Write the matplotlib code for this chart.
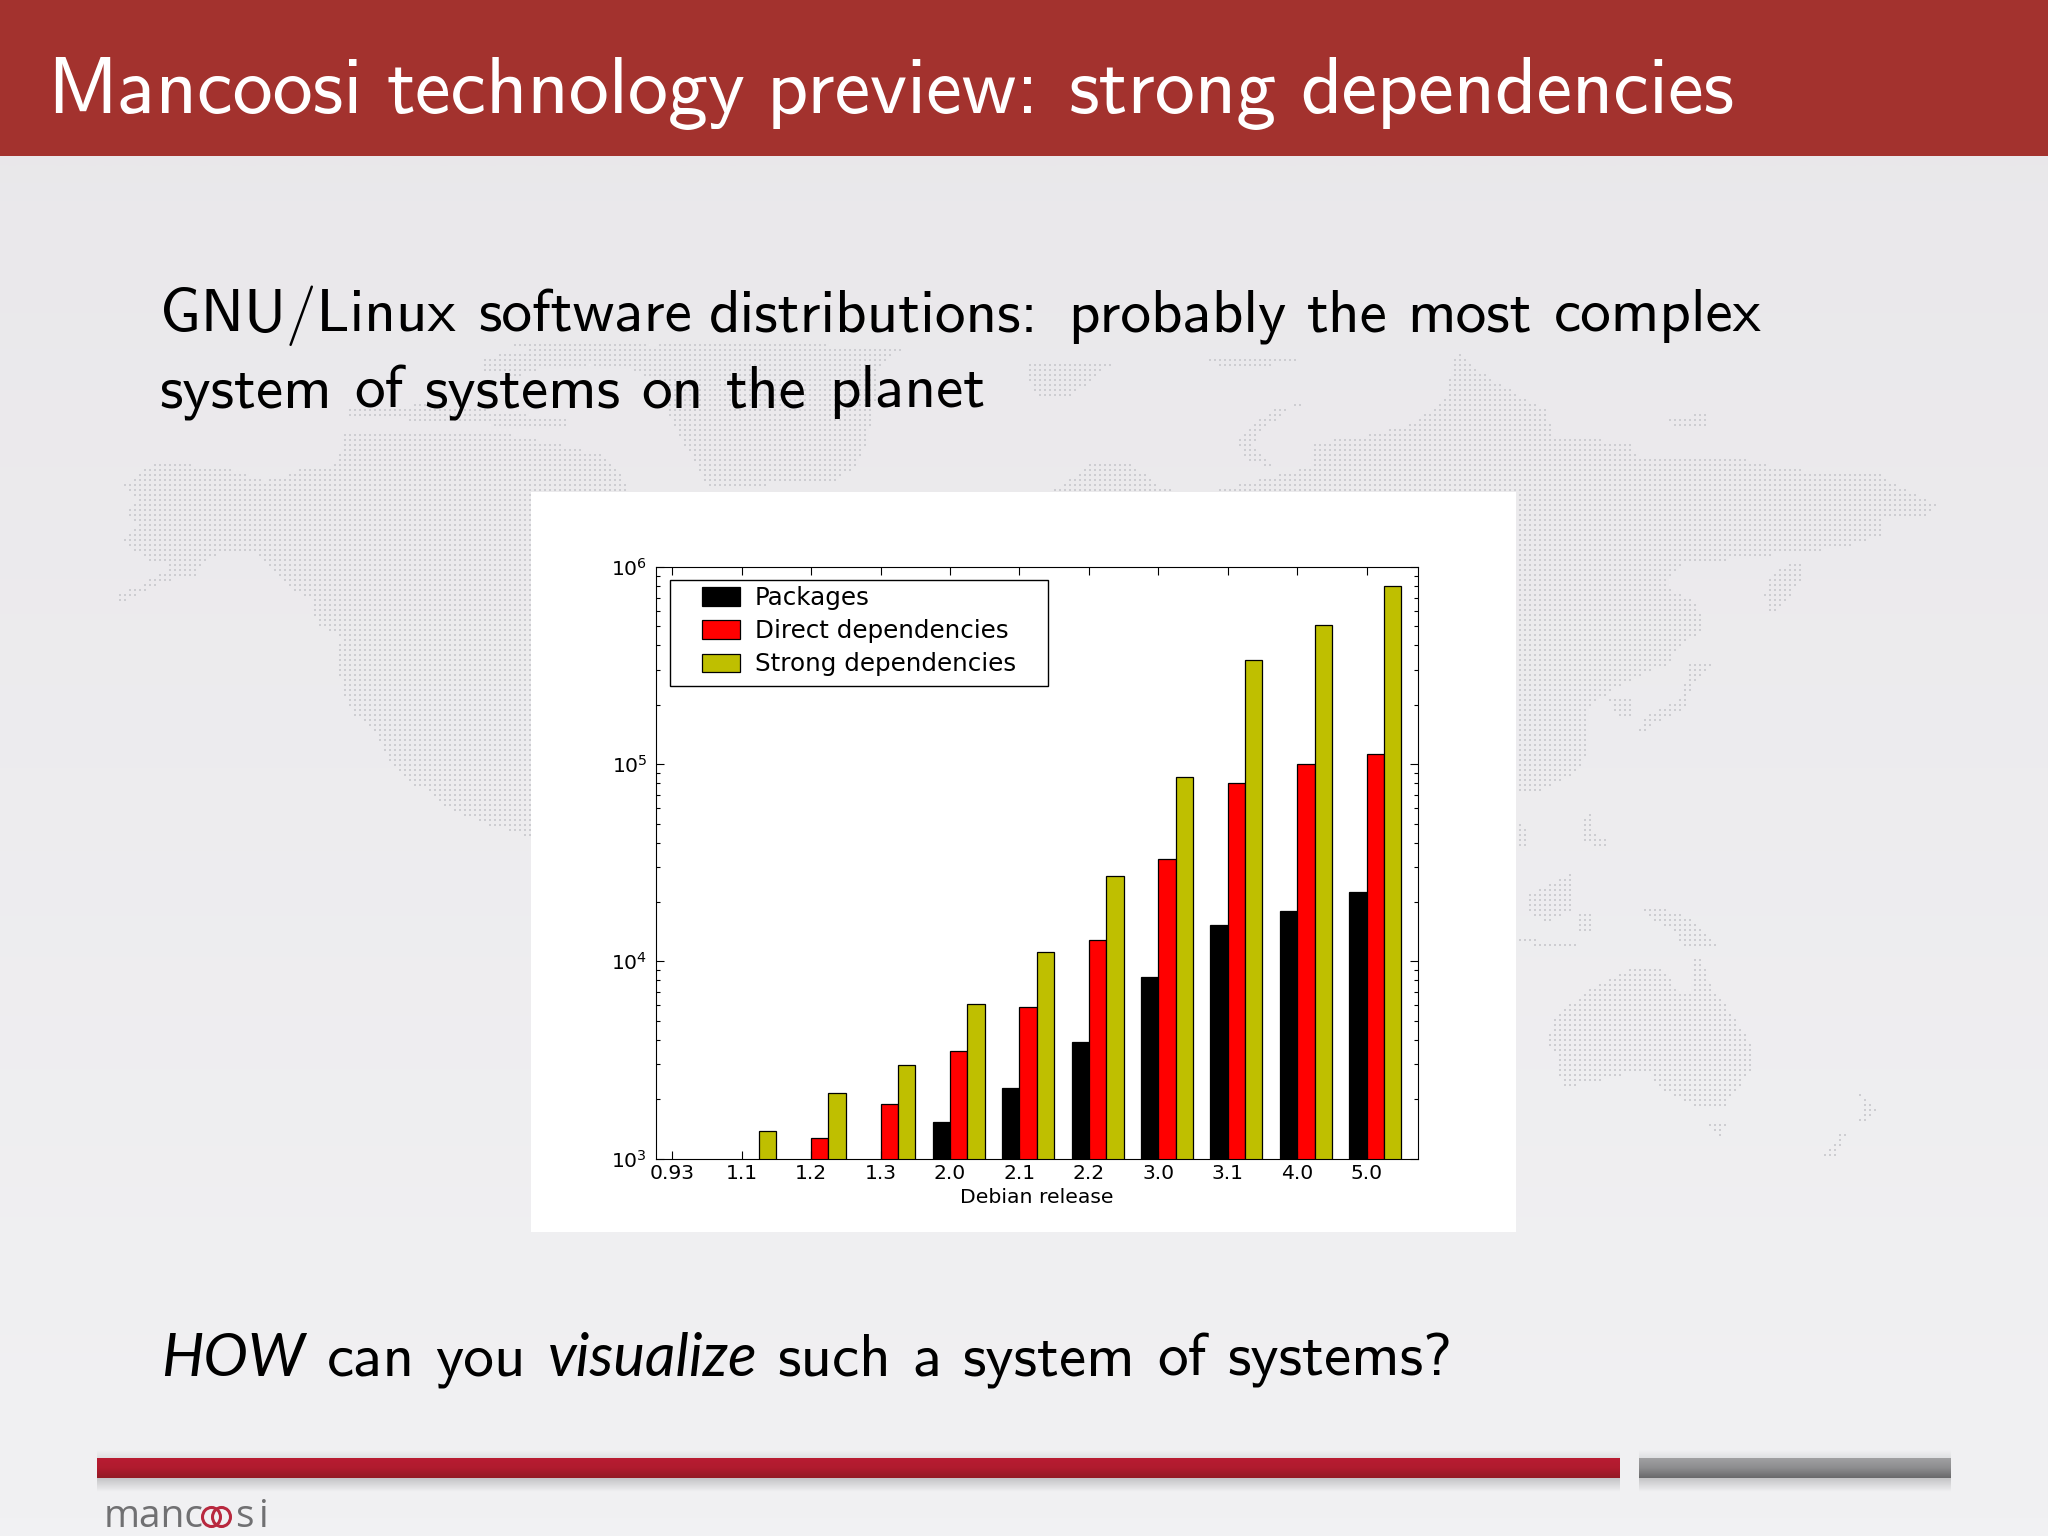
import numpy as np
import matplotlib
matplotlib.use("Agg")
import matplotlib.pyplot as plt
from matplotlib.path import Path
from matplotlib.patches import Ellipse, Rectangle
from matplotlib.colors import LinearSegmentedColormap

# chart values (nan = bar below the 10^3 axis floor)
releases = ["0.93", "1.1", "1.2", "1.3", "2.0", "2.1", "2.2", "3.0", "3.1", "4.0", "5.0"]
packages = [np.nan, np.nan, np.nan, np.nan, 1530, 2270, 3890, 8300, 15200, 18000, 22400]
direct_deps = [np.nan, np.nan, 1270, 1880, 3490, 5870, 12800, 33000, 80600, 100000, 113000]
strong_deps = [np.nan, 1375, 2140, 2990, 6110, 11200, 27000, 86100, 339000, 506000, 800000]

W, H = 2048, 1536

# slide text: (word, x of its left edge)
title_words = [("Mancoosi", 47), ("technology", 386), ("preview:", 767), ("strong", 1069), ("dependencies", 1300)]
line1_words = [("GNU/Linux", 160), ("software", 478), ("distributions:", 709), ("probably", 1068), ("the", 1307), ("most", 1407), ("complex", 1554)]
line2_words = [("system", 159), ("of", 354), ("systems", 424), ("on", 641), ("the", 726), ("planet", 829)]
bottom_words = [("HOW", 161, True), ("can", 327, False), ("you", 435, False), ("visualize", 548, True),
                ("such", 777, False), ("a", 912, False), ("system", 962, False), ("of", 1157, False), ("systems?", 1227, False)]

# rough outlines of the dotted world map behind the slide, given per zoomed crop
left_shapes = [[(124, 485), (155, 462), (225, 468), (265, 480), (290, 475), (340, 468), (400, 480), (531, 465),
                (531, 837), (483, 823), (441, 806), (431, 792), (414, 785), (390, 764), (376, 733), (352, 713),
                (341, 688), (338, 661), (341, 637), (317, 626), (310, 599), (293, 589), (269, 564), (252, 551),
                (224, 551), (203, 561), (197, 575), (165, 582), (138, 595), (110, 607), (119, 595), (141, 585),
                (165, 571), (172, 561), (148, 561), (131, 547), (124, 540), (138, 526), (124, 513), (138, 499)]]
top_shapes = [[(250, 65), (420, 65), (425, 90), (440, 65), (730, 80), (700, 130), (690, 300), (680, 400), (670, 440),
               (640, 490), (490, 500), (480, 440), (465, 380), (445, 290), (440, 200), (400, 150), (300, 120)],
              [(220, 120), (260, 90), (390, 95), (390, 130), (300, 140), (260, 170), (220, 150)],
              [(60, 270), (160, 250), (320, 300), (320, 330), (200, 310), (60, 290)],
              [(50, 330), (110, 340), (250, 340), (360, 400), (380, 440), (400, 520), (0, 520), (0, 450), (40, 440), (50, 380)],
              [(880, 130), (980, 130), (950, 190), (920, 240), (890, 230), (880, 180)],
              [(1090, 110), (1200, 105), (1200, 130), (1110, 145)],
              [(905, 520), (960, 420), (1000, 430), (1040, 500), (1060, 520)],
              [(1220, 370), (1300, 340), (1340, 310), (1380, 240), (1395, 90), (1420, 150), (1460, 210), (1505, 270),
               (1510, 345), (1568, 350), (1568, 520), (1090, 520), (1170, 470), (1220, 440)],
              [(1225, 245), (1195, 265), (1165, 320), (1150, 370), (1165, 420), (1175, 440), (1145, 430), (1130, 370),
               (1150, 310), (1180, 260)]]
right_shapes = [[(0, 120), (110, 130), (110, 180), (350, 190), (380, 215), (640, 210), (800, 235), (1080, 245), (1140, 270),
                 (1250, 300), (1200, 325), (1090, 320), (1090, 355), (990, 375), (880, 385), (720, 395), (500, 410),
                 (450, 450), (550, 480), (560, 530), (490, 560), (460, 590), (330, 630), (240, 660), (220, 700), (230, 750),
                 (190, 790), (100, 820), (20, 830), (0, 830)],
                [(740, 460), (770, 420), (850, 400), (855, 430), (800, 480), (760, 505)],
                [(520, 590), (590, 590), (540, 620), (510, 670), (370, 720), (390, 690), (500, 650)],
                [(285, 650), (350, 655), (350, 690), (315, 690)],
                [(210, 870), (240, 860), (240, 900), (290, 910), (270, 930), (210, 910)],
                [(50, 1010), (130, 990), (180, 970), (175, 1040), (110, 1060), (60, 1050)],
                [(370, 1030), (410, 1030), (510, 1050), (570, 1080), (620, 1110), (560, 1110), (480, 1100), (490, 1080), (420, 1060)],
                [(20, 1090), (190, 1102), (190, 1112), (20, 1100)],
                [(190, 1050), (245, 1040), (240, 1075), (200, 1080)],
                [(20, 880), (50, 890), (50, 920), (20, 930)],
                [(110, 1280), (125, 1235), (240, 1180), (300, 1160), (380, 1140), (450, 1150), (490, 1190), (530, 1190),
                 (540, 1120), (560, 1130), (590, 1180), (650, 1230), (700, 1280), (705, 1330), (660, 1370), (620, 1400),
                 (540, 1400), (430, 1360), (400, 1330), (260, 1350), (150, 1365), (135, 1300)],
                [(580, 1430), (630, 1430), (610, 1460)],
                [(990, 1360), (1070, 1400), (1040, 1430), (1000, 1430), (940, 1495), (905, 1490), (960, 1450), (1020, 1420), (1030, 1390)],
                [(460, 140), (570, 135), (570, 155), (470, 155)]]


def map_shapes():
    shapes = [np.array(s, float) for s in left_shapes]
    for s in top_shapes:
        s = np.array(s, float)
        shapes.append(np.column_stack([300 + s[:, 0] / 1.206, 320 + s[:, 1] / 3]))
    for s in right_shapes:
        s = np.array(s, float)
        shapes.append(np.column_stack([1510 + s[:, 0] / 2.914, 340 + s[:, 1] / 1.823]))
    return shapes


def vgradient(ax, x0, x1, y0, y1, colors):
    cmap = LinearSegmentedColormap.from_list("g", colors)
    grad = np.linspace(0, 1, 64).reshape(-1, 1)
    ax.imshow(grad, cmap=cmap, extent=(x0, x1, y1, y0), aspect="auto", zorder=2, interpolation="bilinear")


def put_words(ax, words, y, size, color="black"):
    for word, x in words:
        ax.text(x, y, word, family="cmss10", fontsize=size, color=color, va="baseline", ha="left", zorder=5)


fig = plt.figure(figsize=(W / 100, H / 100), dpi=100)

# slide background drawn in pixel coordinates
bg = fig.add_axes([0, 0, 1, 1])
bg.axis("off")
vgradient(bg, 0, W, 0, H, ["#e9e7ea", "#f1f1f3"])

gx, gy = np.meshgrid(np.arange(100, 1950, 5), np.arange(320, 1180, 5))
grid = np.column_stack([gx.ravel(), gy.ravel()])
hit = np.zeros(len(grid), bool)
for s in map_shapes():
    hit |= Path(s).contains_points(grid)
bg.scatter(grid[hit, 0], grid[hit, 1], s=4.6, marker="s", color="#cdcdd1", linewidths=0, zorder=3)

bg.fill_between([0, W], 0, 156, color="#a3322e", zorder=4, linewidth=0)
bg.fill_between([531, 1516], 492, 1232, color="white", zorder=4, linewidth=0)

put_words(bg, title_words, 113, 57.7, "white")
put_words(bg, line1_words, 331, 44)
put_words(bg, line2_words, 407, 44)
for word, x, slanted in bottom_words:
    if slanted:
        bg.text(x, 1376, word, family="Lato", style="italic", fontsize=43, va="baseline", zorder=5)
    else:
        bg.text(x, 1376, word, family="cmss10", fontsize=44, va="baseline", zorder=5)

# footer bars with their soft shadows
vgradient(bg, 97, 1620, 1450, 1458, ["#f0f0f2", "#e0e1e3"])
vgradient(bg, 1639, 1951, 1450, 1458, ["#f0f0f2", "#e0e1e3"])
vgradient(bg, 97, 1620, 1478, 1492, ["#c4c4c6", "#f1f1f3"])
vgradient(bg, 1639, 1951, 1478, 1492, ["#c4c4c6", "#f1f1f3"])
vgradient(bg, 97, 1620, 1458, 1478, ["#b81c32", "#b01b2e", "#931a24"])
vgradient(bg, 1639, 1951, 1458, 1478, ["#a0a0a2", "#8c8c8e", "#69696b"])

# logo: text with the two interlocked rings between
bg.text(104, 1527, "manc", family="Open Sans", fontsize=28, color="#707072", va="baseline", zorder=5)
bg.add_patch(Ellipse((211.5, 1517), 18, 19, fill=False, edgecolor="#b8283e", linewidth=2.2, zorder=5))
bg.add_patch(Ellipse((221.5, 1517), 18, 19, fill=False, edgecolor="#b8283e", linewidth=2.2, zorder=5))
bg.text(235, 1527, "s", family="Open Sans", fontsize=28, color="#707072", va="baseline", zorder=5)
bg.text(259, 1527, "i", family="Open Sans", fontsize=28, color="#707072", va="baseline", zorder=5)

bg.set_xlim(0, W)
bg.set_ylim(H, 0)

# the chart itself
ax_w, ax_h = 762.4, 591.5
ax = fig.add_axes([655.6 / W, 1 - 1158.5 / H, ax_w / W, ax_h / H])
x = np.arange(len(releases))
width = 0.25
ax.bar(x - width, packages, width, align="edge", color="k", edgecolor="k", linewidth=0.9, label="Packages")
ax.bar(x, direct_deps, width, align="edge", color="r", edgecolor="k", linewidth=0.9, label="Direct dependencies")
ax.bar(x + width, strong_deps, width, align="edge", color="#bfbf00", edgecolor="k", linewidth=0.9, label="Strong dependencies")
ax.set_yscale("log")
ax.set_ylim(1e3, 1e6)
ax.set_xlim(-0.24, 10.74)
ax.set_xticks(x)
ax.set_xticklabels(releases)
ax.set_xlabel("Debian release", fontsize=14.7, labelpad=3.5)
ax.tick_params(axis="both", which="major", direction="in", top=True, right=True, labelsize=14.6, length=6, width=0.8)
ax.tick_params(axis="both", which="minor", direction="in", top=True, right=True, length=3, width=0.8)
ax.tick_params(axis="x", which="minor", top=False, bottom=False)
ax.tick_params(axis="x", pad=4)
ax.tick_params(axis="y", pad=6)

# legend frame is wider than its padding would allow, so it is drawn on its own
ax.add_patch(Rectangle(((670 - 655.6) / ax_w, 1 - (685.7 - 567) / ax_h), (1048 - 670) / ax_w, (685.7 - 579.5) / ax_h,
                       transform=ax.transAxes, facecolor="white", edgecolor="black", linewidth=1, zorder=4))
ax.legend(loc="upper left", bbox_to_anchor=((701.5 - 655.6) / ax_w, 1 - (586 - 567) / ax_h), borderaxespad=0,
          fontsize=17.7, frameon=False, handlelength=1.58, handleheight=0.76,
          handletextpad=0.58, labelspacing=0.37, borderpad=0).set_zorder(5)

fig.savefig("out.png", dpi=100)
